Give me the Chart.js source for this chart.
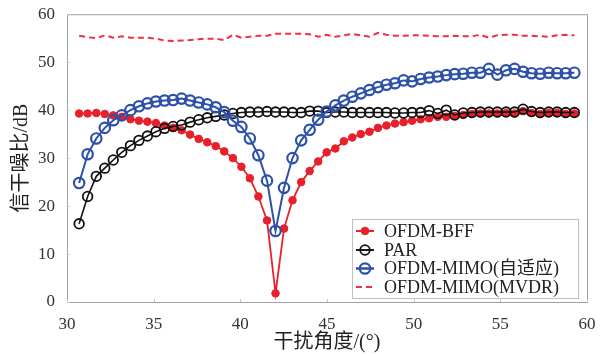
<!DOCTYPE html>
<html>
<head>
<meta charset="utf-8">
<script src="https://cdn.jsdelivr.net/npm/chart.js@4"></script>
<style>
  html, body { margin: 0; padding: 0; background: #fff; }
  canvas { display: block; }
</style>
</head>
<body>
<canvas id="chart" width="604" height="356"></canvas>
<script>
// Angles d'interférence (°)
const angles = [
  30.70, 31.19, 31.69, 32.18, 32.67, 33.16, 33.66, 34.15, 34.64, 35.13,
  35.63, 36.12, 36.61, 37.10, 37.60, 38.09, 38.58, 39.07, 39.57, 40.06,
  40.55, 41.04, 41.54, 42.03, 42.52, 43.01, 43.51, 44.00, 44.49, 44.98,
  45.48, 45.97, 46.46, 46.95, 47.45, 47.94, 48.43, 48.92, 49.42, 49.91,
  50.40, 50.89, 51.39, 51.88, 52.37, 52.86, 53.36, 53.85, 54.34, 54.83,
  55.33, 55.82, 56.31, 56.80, 57.30, 57.79, 58.28, 58.77, 59.27
];

// SINR (dB) par méthode
const bffValues = [
  39.3, 39.3, 39.4, 39.2, 38.9, 38.6, 38.1, 37.8, 37.6, 37.3,
  36.8, 36.3, 35.8, 34.9, 34.0, 33.3, 32.5, 31.4, 30.0, 28.2,
  25.8, 22.0, 17.0, 1.8, 15.3, 21.2, 25.0, 27.3, 29.3, 31.2,
  32.0, 33.5, 34.3, 35.0, 35.5, 36.3, 36.8, 37.2, 37.5, 37.8,
  38.1, 38.3, 38.6, 38.6, 38.8, 39.0, 39.2, 39.3, 39.3, 39.3,
  39.4, 39.3, 39.8, 39.4, 39.2, 39.4, 39.4, 39.2, 39.3
];
const parValues = [
  16.3, 22.0, 26.2, 27.9, 29.6, 31.2, 32.6, 33.7, 34.6, 35.5,
  36.2, 36.6, 36.9, 37.5, 38.0, 38.4, 38.7, 39.0, 39.3, 39.5,
  39.6, 39.6, 39.7, 39.6, 39.6, 39.5, 39.5, 39.8, 39.8, 39.5,
  39.6, 39.6, 39.5, 39.5, 39.5, 39.5, 39.5, 39.4, 39.4, 39.5,
  39.5, 39.9, 39.3, 40.0, 39.0, 39.4, 39.5, 39.6, 39.6, 39.6,
  39.6, 39.6, 40.2, 39.7, 39.5, 39.6, 39.6, 39.5, 39.5
];
const mimoValues = [
  24.8, 30.8, 34.1, 36.3, 37.9, 38.9, 40.0, 40.8, 41.4, 41.8,
  42.0, 42.1, 42.4, 42.0, 41.6, 41.2, 40.6, 39.6, 37.8, 36.5,
  34.1, 30.6, 25.3, 14.8, 23.8, 30.0, 33.7, 35.9, 38.0, 39.7,
  41.0, 42.0, 42.8, 43.5, 44.2, 44.8, 45.3, 45.6, 46.2, 46.0,
  46.5, 46.8, 47.0, 47.3, 47.5, 47.6, 47.8, 47.8, 48.6, 47.4,
  48.3, 48.6, 48.0, 47.7, 47.6, 47.8, 47.7, 47.7, 47.8
];
const mvdrValues = [
  55.5, 55.2, 55.0, 55.6, 55.1, 55.4, 55.1, 55.1, 55.1, 54.9,
  54.5, 54.4, 54.5, 54.6, 54.8, 54.9, 54.9, 54.6, 55.7, 55.1,
  55.3, 55.5, 55.5, 55.9, 55.9, 55.9, 55.9, 55.8, 55.3, 55.7,
  55.3, 55.6, 55.9, 55.6, 55.3, 56.1, 55.7, 55.5, 55.5, 55.6,
  55.6, 55.5, 55.4, 55.4, 55.5, 55.4, 55.4, 55.7, 55.1, 55.6,
  55.7, 55.7, 55.5, 55.5, 55.4, 55.3, 55.6, 55.7, 55.6
];

const xTicks = [30, 35, 40, 45, 50, 55, 60];
const yTicks = [0, 10, 20, 30, 40, 50, 60];

const seriesNames = ['OFDM-BFF', 'PAR', 'OFDM-MIMO(自适应)', 'OFDM-MIMO(MVDR)'];

const serif = '"Liberation Serif", "Noto Sans CJK SC", serif';
const RED = '#e8202c';
const BLUE = '#2d51a8';
const BLACK = '#111111';
const MVDR_RED = '#f0303e';

const toPoints = vals => vals.map((v, i) => ({ x: angles[i], y: v }));

// Cadre gris autour de la zone du graphe + petites graduations intérieures
const framePlugin = {
  id: 'frame',
  beforeDatasetsDraw(chart) {
    const { ctx, chartArea: a, scales } = chart;
    ctx.save();
    ctx.strokeStyle = '#a0a0a0';
    ctx.lineWidth = 1;
    ctx.strokeRect(a.left + 0.5, a.top + 0.5, a.right - a.left, a.bottom - a.top);
    ctx.strokeStyle = '#c8c8c8';
    xTicks.forEach(t => {
      const px = Math.round(scales.x.getPixelForValue(t)) + 0.5;
      ctx.beginPath(); ctx.moveTo(px, a.bottom); ctx.lineTo(px, a.bottom - 3); ctx.stroke();
    });
    yTicks.forEach(t => {
      const py = Math.round(scales.y.getPixelForValue(t)) + 0.5;
      ctx.beginPath(); ctx.moveTo(a.left, py); ctx.lineTo(a.left + 3, py); ctx.stroke();
    });
    ctx.restore();
  }
};

// Légende dessinée dans la zone du graphe (en bas à droite)
const legendPlugin = {
  id: 'insideLegend',
  afterDraw(chart) {
    const { ctx, chartArea: a } = chart;
    const box = { left: 352, top: 219, right: a.right - 9, bottom: 298 };
    ctx.save();
    ctx.fillStyle = '#fff';
    ctx.fillRect(box.left, box.top, box.right - box.left, box.bottom - box.top);
    ctx.strokeStyle = '#c0c0c0';
    ctx.lineWidth = 1;
    ctx.strokeRect(box.left + 0.5, box.top + 0.5, box.right - box.left, box.bottom - box.top);

    const rows = [231, 250, 268.5, 287];
    chart.data.datasets.forEach((ds, i) => {
      const y = rows[i];
      ctx.strokeStyle = ds.borderColor;
      ctx.lineWidth = ds.borderWidth;
      ctx.setLineDash(ds.borderDash || []);
      ctx.beginPath(); ctx.moveTo(356, y); ctx.lineTo(374, y); ctx.stroke();
      ctx.setLineDash([]);
      if (ds.pointRadius > 0) {
        ctx.beginPath();
        ctx.arc(365, y, ds.pointRadius, 0, Math.PI * 2);
        ctx.fillStyle = ds.pointBackgroundColor;
        ctx.fill();
        ctx.lineWidth = ds.pointBorderWidth;
        ctx.strokeStyle = ds.pointBorderColor;
        ctx.stroke();
        ctx.beginPath(); ctx.moveTo(356, y); ctx.lineTo(374, y);
        ctx.lineWidth = ds.borderWidth; ctx.strokeStyle = ds.borderColor; ctx.stroke();
      }
      ctx.fillStyle = '#222';
      ctx.font = '18px ' + serif;
      ctx.textBaseline = 'middle';
      ctx.fillText(ds.label, 384, y + 1);
    });
    ctx.restore();
  }
};

new Chart(document.getElementById('chart'), {
  type: 'line',
  data: {
    datasets: [
      {
        label: seriesNames[0],
        data: toPoints(bffValues),
        borderColor: RED,
        borderWidth: 1.8,
        pointRadius: 3.8,
        pointBackgroundColor: RED,
        pointBorderColor: RED,
        pointBorderWidth: 1,
        order: 4
      },
      {
        label: seriesNames[1],
        data: toPoints(parValues),
        borderColor: BLACK,
        borderWidth: 1.6,
        pointRadius: 4.8,
        pointBackgroundColor: 'rgba(255,255,255,0)',
        pointBorderColor: BLACK,
        pointBorderWidth: 1.8,
        order: 3
      },
      {
        label: seriesNames[2],
        data: toPoints(mimoValues),
        borderColor: BLUE,
        borderWidth: 2,
        pointRadius: 5.2,
        pointBackgroundColor: 'rgba(255,255,255,0)',
        pointBorderColor: BLUE,
        pointBorderWidth: 2.2,
        order: 2
      },
      {
        label: seriesNames[3],
        data: toPoints(mvdrValues),
        borderColor: MVDR_RED,
        borderWidth: 2,
        borderDash: [6, 4],
        pointRadius: 0,
        order: 1
      }
    ]
  },
  options: {
    responsive: false,
    animation: false,
    devicePixelRatio: 1,
    layout: { padding: { top: 11, right: 17, left: 0, bottom: 0 } },
    plugins: {
      legend: { display: false },
      tooltip: { enabled: false }
    },
    scales: {
      x: {
        type: 'linear',
        min: 30,
        max: 60,
        afterBuildTicks: s => { s.ticks = xTicks.map(v => ({ value: v })); },
        afterFit: s => { s.height = 54; },
        grid: { display: false },
        border: { display: true, color: '#a0a0a0' },
        ticks: { font: { family: serif, size: 17 }, color: '#333', padding: 4, maxRotation: 0 },
        title: {
          display: true,
          text: '干扰角度/(°)',
          font: { family: serif, size: 20 },
          color: '#222',
          padding: { top: 0, bottom: 1 }
        }
      },
      y: {
        min: 0,
        max: 60,
        afterBuildTicks: s => { s.ticks = yTicks.map(v => ({ value: v })); },
        afterFit: s => { s.width = 67; },
        grid: { display: false },
        border: { display: true, color: '#a0a0a0' },
        ticks: { font: { family: serif, size: 17 }, color: '#333', padding: 4 },
        title: {
          display: true,
          text: '信干噪比/dB',
          font: { family: serif, size: 20 },
          color: '#222',
          padding: { top: 10, bottom: 0 }
        }
      }
    }
  },
  plugins: [framePlugin, legendPlugin]
});
</script>
</body>
</html>
